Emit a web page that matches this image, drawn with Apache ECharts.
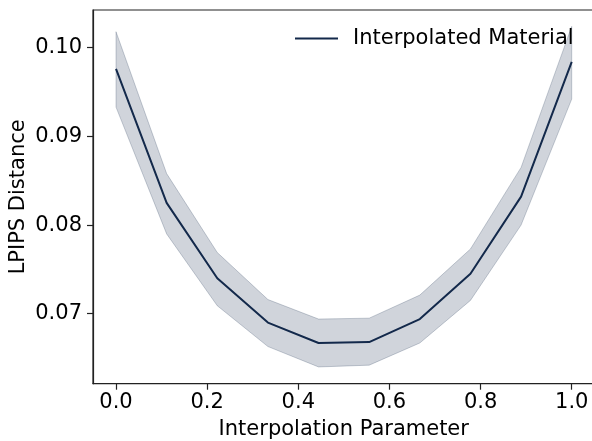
<!DOCTYPE html>
<html>
<head>
<meta charset="utf-8">
<script src="https://cdn.jsdelivr.net/npm/echarts@6/dist/echarts.min.js"></script>
<style>
    html, body { margin: 0; padding: 0; background: #fff; }
    #container_line { width: 592px; height: 441px; }
</style>
</head>
<body>
<div id="container_line"></div>
<script>
const xValues = [0, 1 / 9, 2 / 9, 3 / 9, 4 / 9, 5 / 9, 6 / 9, 7 / 9, 8 / 9, 1];
const meanValues = [0.0976, 0.0825, 0.0740, 0.0690, 0.0667, 0.0668, 0.0694, 0.0745, 0.0832, 0.0984];
const lowerValues = [0.0933, 0.0790, 0.0709, 0.0663, 0.0640, 0.0642, 0.0667, 0.0715, 0.0800, 0.0942];
const upperValues = [0.1018, 0.0858, 0.0769, 0.0716, 0.0694, 0.0695, 0.0721, 0.0773, 0.0865, 0.1024];
const xTicks = [0.0, 0.2, 0.4, 0.6, 0.8, 1.0];
const yTicks = [0.07, 0.08, 0.09, 0.10];

function drawLineChart() {
    const myChart = echarts.init(document.getElementById('container_line'), null, {
        renderer: 'canvas'
    });
    const font = 'DejaVu Sans';
    const navy = '#13294b';

    // band polygon: upper edge left->right, then lower edge right->left
    const bandData = xValues.map((x, i) => [x, lowerValues[i], upperValues[i]]);
    const meanData = xValues.map((x, i) => [x, meanValues[i]]);

    function renderBand(params, api) {
        if (params.dataIndex !== 0) {
            return;
        }
        const upper = bandData.map(d => api.coord([d[0], d[2]]));
        const lower = bandData.map(d => api.coord([d[0], d[1]])).reverse();
        return {
            type: 'polygon',
            shape: { points: upper.concat(lower) },
            style: {
                fill: 'rgba(19,41,75,0.2)',
                stroke: 'rgba(19,41,75,0.22)',
                lineWidth: 1
            },
            silent: true
        };
    }

    const option = {
        animation: false,
        textStyle: { fontFamily: font },
        grid: {
            left: 93,
            top: 10,
            right: -2.5,
            bottom: 57.3,
            outerBoundsMode: 'none',
            containLabel: false,
            show: true,
            borderColor: '#222',
            borderWidth: 1.2
        },
        legend: {
            data: ['Interpolated Material'],
            left: 295,
            top: 28,
            padding: 0,
            icon: 'rect',
            itemWidth: 43,
            itemHeight: 2,
            textStyle: {
                fontFamily: font,
                fontSize: 21,
                color: '#000',
                padding: [0, 0, 0, 10]
            }
        },
        xAxis: {
            type: 'value',
            min: -0.0505,
            max: 1.05,
            name: 'Interpolation Parameter',
            nameLocation: 'middle',
            nameGap: 35,
            nameTextStyle: { fontFamily: font, fontSize: 21, color: '#000' },
            axisLine: { show: true, onZero: false, lineStyle: { color: '#222', width: 1.2 } },
            axisTick: {
                show: true,
                length: 6,
                customValues: xTicks,
                lineStyle: { color: '#222', width: 1.2 }
            },
            axisLabel: {
                customValues: xTicks,
                fontSize: 21,
                color: '#000',
                margin: 8,
                formatter: v => v.toFixed(1)
            },
            splitLine: { show: false }
        },
        yAxis: {
            type: 'value',
            min: 0.06211,
            max: 0.10425,
            name: 'LPIPS Distance',
            nameLocation: 'middle',
            nameGap: 64,
            nameMoveOverlap: false,
            nameTextStyle: { fontFamily: font, fontSize: 21, color: '#000' },
            axisLine: { show: true, onZero: false, lineStyle: { color: '#222', width: 1.2 } },
            axisTick: {
                show: true,
                length: 6,
                customValues: yTicks,
                lineStyle: { color: '#222', width: 1.2 }
            },
            axisLabel: {
                customValues: yTicks,
                fontSize: 21,
                color: '#000',
                margin: 11,
                formatter: v => v.toFixed(2)
            },
            splitLine: { show: false }
        },
        series: [{
            name: 'band',
            type: 'custom',
            renderItem: renderBand,
            data: bandData,
            encode: { x: 0, y: [1, 2] },
            silent: true,
            z: 1
        }, {
            name: 'Interpolated Material',
            type: 'line',
            data: meanData,
            symbol: 'none',
            itemStyle: { color: navy },
            lineStyle: { color: navy, width: 2 },
            z: 2
        }]
    };
    myChart.setOption(option);
}

drawLineChart();
</script>
</body>
</html>
